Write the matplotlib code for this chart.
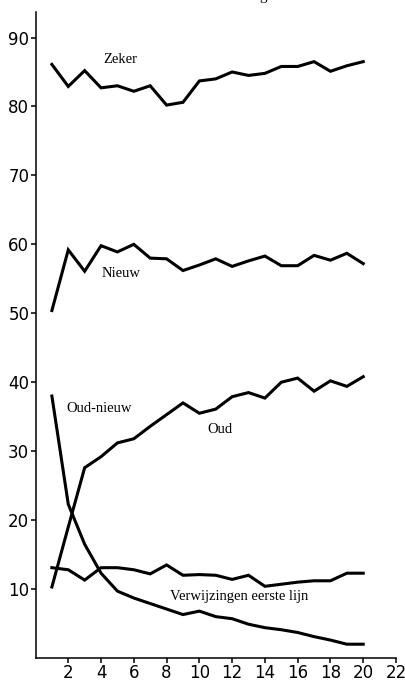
import matplotlib
matplotlib.use("Agg")
import matplotlib.pyplot as plt

# x positions (rounds 1..20)
x = list(range(1, 21))

# values
zeker = [86.1, 82.9, 85.2, 82.7, 83.0, 82.2, 83.0, 80.2, 80.6, 83.7,
         84.0, 85.0, 84.5, 84.8, 85.8, 85.8, 86.5, 85.1, 85.9, 86.5]
nieuw = [50.4, 59.2, 56.1, 59.8, 58.9, 60.0, 58.0, 57.9, 56.2, 57.0,
         57.9, 56.8, 57.6, 58.3, 56.9, 56.9, 58.4, 57.7, 58.7, 57.2]
oud = [10.3, 19.0, 27.6, 29.2, 31.2, 31.8, 33.6, 35.3, 37.0, 35.5,
       36.1, 37.9, 38.5, 37.7, 40.0, 40.6, 38.7, 40.2, 39.4, 40.8]
oud_nieuw = [38.0, 22.3, 16.5, 12.3, 9.7, 8.7, 7.9, 7.1, 6.3, 6.8,
             6.0, 5.7, 4.9, 4.4, 4.1, 3.7, 3.1, 2.6, 2.0, 2.0]
verwijzingen = [13.1, 12.8, 11.3, 13.1, 13.1, 12.8, 12.2, 13.5, 12.0, 12.1,
                12.0, 11.4, 12.0, 10.4, 10.7, 11.0, 11.2, 11.2, 12.3, 12.3]

series = [zeker, nieuw, oud, oud_nieuw, verwijzingen]

# labels and where they sit in the chart
labels = ["Zeker", "Nieuw", "Oud-nieuw", "Oud", "Verwijzingen eerste lijn"]
label_x = [5.2, 5.25, 3.9, 11.25, 12.4]
label_y = [86.8, 55.8, 36.2, 33.1, 8.9]

xticks = list(range(2, 23, 2))
yticks = list(range(10, 91, 10))

fig = plt.figure(figsize=(4.06, 6.82), dpi=100)
ax = fig.add_axes([35.5 / 406, 24 / 682, (396 - 35.5) / 406, (658 - 12) / 682])

for s in series:
    ax.plot(x, s, color="black", linewidth=2.2, solid_joinstyle="miter")

for t, lx, ly in zip(labels, label_x, label_y):
    ax.text(lx, ly, t, ha="center", va="center", fontsize=10.5,
            family="Liberation Serif")

ax.set_xlim(0, 22)
ax.set_ylim(0, 93.7)
ax.set_xticks(xticks)
ax.set_yticks(yticks)
ax.spines["top"].set_visible(False)
ax.spines["right"].set_visible(False)
for side in ["left", "bottom"]:
    ax.spines[side].set_linewidth(1.1)
ax.tick_params(axis="both", direction="out", length=3.5, width=1.1,
               labelsize=12, pad=1)

# bit of the cut-off heading at the top edge
fig.text(263 / 406, 1.0, "g", ha="center", va="baseline", fontsize=11,
         family="Liberation Serif")

fig.savefig("out.png", dpi=100)
